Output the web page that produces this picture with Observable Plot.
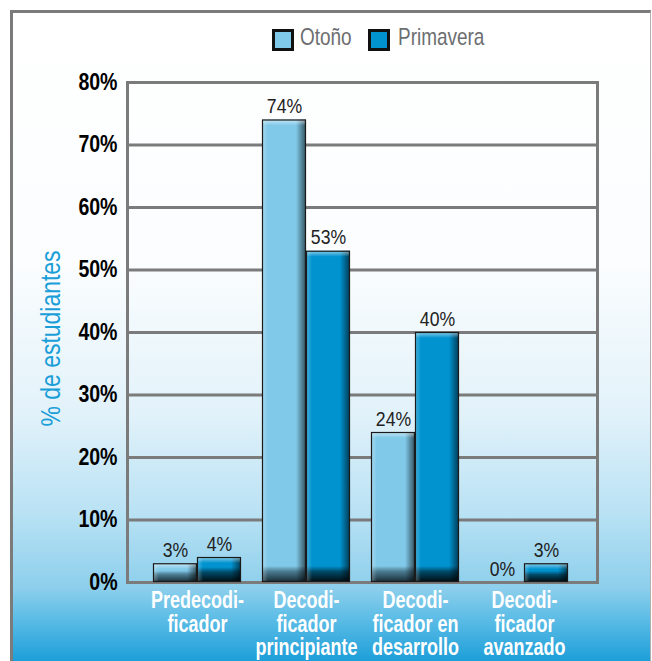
<!DOCTYPE html>
<html>
<head>
<meta charset="utf-8">
<script src="https://cdn.jsdelivr.net/npm/d3@7"></script>
<script src="https://cdn.jsdelivr.net/npm/@observablehq/plot@0.6"></script>
<style>
  html, body { margin: 0; padding: 0; background: #fff; }
  #wrap { position: relative; width: 652px; height: 661px; overflow: hidden; background: #fff;
          font-family: "Liberation Sans", Arial, sans-serif; }
  #panel { position: absolute; left: 10px; top: 10px; width: 637px; height: 700px;
           border-left: 3px solid #7b7b7b; border-top: 3px solid #7b7b7b; border-right: 1px solid #b0b0b0;
           background: linear-gradient(to bottom, #ffffff 0px, #fbfdfe 250px, #e2f2fa 400px, #b9e2f4 500px, #8dcfec 575px, #5dbde6 605px, #1a9dd8 650px, #1499d6 700px);
           z-index: 0; }
  #legend { position: relative; z-index: 1; height: 60px; }
  .sw { position: absolute; top: 29px; width: 16px; height: 16px; border: 3px solid #111; }
  .lt { position: absolute; top: 24px; color: #6d6e71; font-size: 24px; line-height: 26px; white-space: nowrap;
        transform: scaleX(0.79); transform-origin: left center; }
  #chart { position: relative; z-index: 1; }
  #chart svg { display: block; background: transparent; }
</style>
</head>
<body>
<div id="wrap">
  <div id="panel"></div>
  <div id="legend"></div>
  <div id="chart"></div>
</div>
<script>
// ---- data ----
const categories = ["Predecodificador", "Decodificador principiante", "Decodificador en desarrollo", "Decodificador avanzado"];
const categoryLabels = ["Predecodi-\nficador", "Decodi-\nficador\nprincipiante", "Decodi-\nficador en\ndesarrollo", "Decodi-\nficador\navanzado"];
const series = ["Otoño", "Primavera"];
const otono = [3, 74, 24, 0];
const primavera = [4, 53, 40, 3];
const yTicks = [0, 10, 20, 30, 40, 50, 60, 70, 80];
const colors = ["#80c9e9", "#0093d0"];

const rows = [];
categories.forEach((c, i) => {
  rows.push({cat: c, series: series[0], value: otono[i]});
  rows.push({cat: c, series: series[1], value: primavera[i]});
});

// ---- legend ----
const legend = document.getElementById("legend");
const legendX = [[272, 300], [368, 398]];
series.forEach((s, i) => {
  const sw = document.createElement("div");
  sw.className = "sw";
  sw.style.left = legendX[i][0] + "px";
  sw.style.background = colors[i];
  const t = document.createElement("div");
  t.className = "lt";
  t.style.left = legendX[i][1] + "px";
  t.textContent = s;
  legend.appendChild(sw); legend.appendChild(t);
});

const FONT = '"Liberation Sans", Arial, sans-serif';

const plot = Plot.plot({
  width: 652,
  height: 601,
  marginTop: 22,
  marginBottom: 79,
  marginLeft: 127,
  marginRight: 55,
  style: {background: "transparent", fontFamily: FONT},
  x: {domain: categories, range: [131, 589], paddingInner: 0.195, paddingOuter: 0.195, axis: null},
  y: {domain: [0, 80], axis: null},
  marks: [
    Plot.ruleY(yTicks, {stroke: "#7b7b7b", strokeWidth: 3, strokeOpacity: 1}),
    Plot.frame({stroke: "#7b7b7b", strokeWidth: 3, strokeOpacity: 1}),
    Plot.barY(rows.filter(d => d.series === series[0] && d.value > 0), {x: "cat", y: "value", fill: colors[0], insetRight: 44}),
    Plot.barY(rows.filter(d => d.series === series[1] && d.value > 0), {x: "cat", y: "value", fill: colors[1], insetLeft: 44}),
    Plot.text(rows.filter(d => d.series === series[0]), {x: "cat", y: "value", text: d => d.value + "%", dx: -22, dy: -7, lineAnchor: "bottom", fontSize: 21, fill: "#222"}),
    Plot.text(rows.filter(d => d.series === series[1]), {x: "cat", y: "value", text: d => d.value + "%", dx: 22, dy: -7, lineAnchor: "bottom", fontSize: 21, fill: "#222"}),
    Plot.text(yTicks, {y: d => d, text: d => d + "%", frameAnchor: "left", textAnchor: "end", dx: -10, fontSize: 23, fontWeight: "bold", fill: "#000"}),
    Plot.text(categories, {x: d => d, text: (d, i) => categoryLabels[i], frameAnchor: "bottom", lineAnchor: "top", dy: 9, fontSize: 24, fontWeight: "bold", fill: "#fff", lineHeight: 0.98}),
    Plot.text(["% de estudiantes"], {frameAnchor: "left", rotate: -90, dx: -76, dy: 6, fontSize: 28, fill: "#1a9ed8", textAnchor: "middle"})
  ]
});

// ---- condensed look: narrow every text horizontally ----
const svg = d3.select(plot);
const narrow = {21: 0.84, 23: 0.85, 24: 0.75, 28: 0.82};
svg.selectAll("text").each(function() {
  const el = this;
  const fsNode = el.closest("[font-size]");
  const fs = fsNode ? parseFloat(fsNode.getAttribute("font-size")) : 0;
  const k = narrow[fs] || 0.82;
  let tr = el.getAttribute("transform");
  if (!tr) {
    const x = el.getAttribute("x") || 0, y = el.getAttribute("y") || 0;
    el.removeAttribute("x"); el.removeAttribute("y");
    tr = `translate(${x},${y})`;
  }
  el.setAttribute("transform", tr + ` scale(${k},1)`);
});

// ---- 3D shading for the bars ----
const defs = svg.insert("defs", ":first-child");
function lin(id, x2, y2, stops) {
  const g = defs.append("linearGradient").attr("id", id).attr("x1", 0).attr("y1", 0).attr("x2", x2).attr("y2", y2);
  stops.forEach(([o, c, a]) => g.append("stop").attr("offset", o).attr("stop-color", c).attr("stop-opacity", a));
}
lin("shR", 1, 0, [[0, "#000", 0], [1, "#000", 0.6]]);
lin("hlL", 1, 0, [[0, "#fff", 0.3], [1, "#fff", 0]]);
lin("hlT", 0, 1, [[0, "#fff", 0.55], [1, "#fff", 0]]);
lin("shB0", 0, 1, [[0, "#000", 0], [0.35, "#0a1a22", 0.45], [1, "#0a1a22", 0.9]]);
lin("shB1", 0, 1, [[0, "#000", 0], [0.35, "#000", 0.5], [1, "#000", 0.92]]);

svg.selectAll("g[aria-label=bar]").each(function(_, gi) {
  const g = d3.select(this);
  g.selectAll("rect").each(function() {
    const r = d3.select(this);
    const x = +r.attr("x"), y = +r.attr("y"), w = +r.attr("width"), h = +r.attr("height");
    const add = (ax, ay, aw, ah, fill) => g.append("rect").attr("x", ax).attr("y", ay).attr("width", Math.max(0, aw)).attr("height", Math.max(0, ah)).attr("fill", fill);
    const sb = Math.min(16, h * 0.6);
    add(x, y + h - sb, w, sb, gi === 0 ? "url(#shB0)" : "url(#shB1)");
    add(x + w - 10, y, 10, h, "url(#shR)");
    add(x, y, 6, h, "url(#hlL)");
    add(x, y, w, Math.min(6, h / 2), "url(#hlT)");
    g.append("rect").attr("x", x + 0.5).attr("y", y + 0.5).attr("width", w - 1).attr("height", h - 1)
      .attr("fill", "none").attr("stroke", "#1a1a1a").attr("stroke-width", 1.2);
  });
});

document.getElementById("chart").appendChild(plot);
</script>
</body>
</html>
